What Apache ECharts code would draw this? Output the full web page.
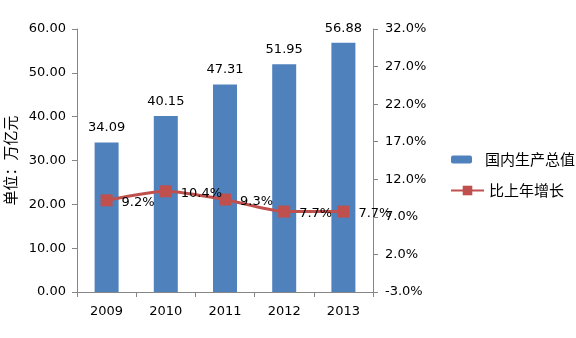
<!DOCTYPE html>
<html><head><meta charset="utf-8">
<script src="https://cdn.jsdelivr.net/npm/echarts@6/dist/echarts.min.js"></script>
<style>html,body{margin:0;padding:0;background:#fff}#c{width:576px;height:338px}</style>
</head><body><div id="c"></div>
<script>
var categories = ['2009','2010','2011','2012','2013'];
var gdpValues = [34.09, 40.15, 47.31, 51.95, 56.88];
var growthValues = [9.2, 10.4, 9.3, 7.7, 7.7];
var leftTicks = {min:0, max:60, interval:10};
var rightTicks = {min:-3, max:32, interval:5};

var font = 'DejaVu Sans';
var chart = echarts.init(document.getElementById('c'));
chart.setOption({
  animation:false,
  textStyle:{fontFamily:font},
  grid:{left:77, right:203, top:29, bottom:46, containLabel:false, outerBoundsMode:'none'},
  legend:[
    {orient:'vertical', left:446, top:147, itemWidth:21, itemHeight:8, data:['国内生产总值'],
     textStyle:{fontSize:15, color:'#000', fontFamily:'Noto Sans CJK SC', padding:[0,0,0,8]}},
    {orient:'vertical', left:445, top:178, itemWidth:33, itemHeight:12, data:['比上年增长'],
     textStyle:{fontSize:15, color:'#000', fontFamily:'Noto Sans CJK SC'}}
  ],
  xAxis:{type:'category', data:categories,
    axisLine:{lineStyle:{color:'#868686'}},
    axisTick:{show:true, alignWithLabel:false, lineStyle:{color:'#868686'}},
    axisLabel:{color:'#000', fontSize:13, margin:13, fontFamily:font}},
  yAxis:[
    {type:'value', min:leftTicks.min, max:leftTicks.max, interval:leftTicks.interval,
     name:'单位：万亿元', nameLocation:'middle', nameGap:57, nameRotate:90,
     nameTextStyle:{fontSize:15, color:'#000', fontFamily:'Noto Sans CJK SC'},
     axisLine:{show:true, lineStyle:{color:'#868686'}},
     axisTick:{show:true, lineStyle:{color:'#868686'}},
     splitLine:{show:false},
     axisLabel:{color:'#000', fontSize:13, margin:11, formatter:function(v){return v.toFixed(2);}}},
    {type:'value', min:rightTicks.min, max:rightTicks.max, interval:rightTicks.interval, position:'right',
     axisLine:{show:true, lineStyle:{color:'#868686'}},
     axisTick:{show:true, lineStyle:{color:'#868686'}},
     splitLine:{show:false},
     axisLabel:{color:'#000', fontSize:13, margin:12, formatter:function(v){return v.toFixed(1)+'%';}}}
  ],
  series:[
    {name:'国内生产总值', type:'bar', data:gdpValues, barWidth:24, yAxisIndex:0,
     itemStyle:{color:'#4F81BD'},
     label:{show:true, position:'top', distance:8, color:'#000', fontSize:13,
       formatter:function(p){return p.value.toFixed(2);}}},
    {name:'比上年增长', type:'line', data:growthValues, yAxisIndex:1,
     symbol:'rect', symbolSize:12, smooth:0.2,
     lineStyle:{color:'#C0504D', width:3}, itemStyle:{color:'#C0504D'},
     label:{show:true, position:'right', distance:9, offset:[0,2], color:'#000', fontSize:13,
       formatter:function(p){return p.value.toFixed(1)+'%';}}}
  ]
});
</script></body></html>
